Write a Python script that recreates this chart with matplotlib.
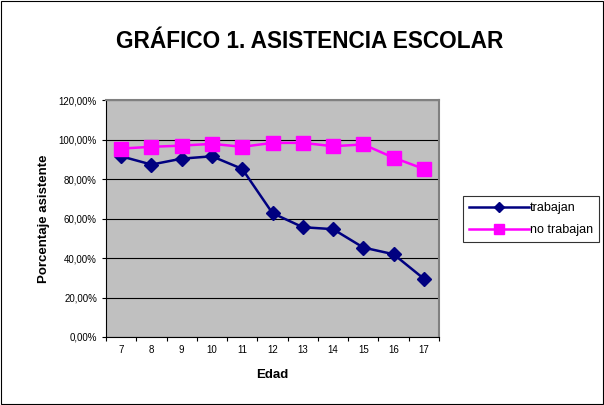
import matplotlib.pyplot as plt
from matplotlib.patches import Rectangle
from matplotlib.ticker import FuncFormatter, MultipleLocator

plt.rcParams['font.family'] = ['Liberation Sans', 'DejaVu Sans']

edades = [7, 8, 9, 10, 11, 12, 13, 14, 15, 16, 17]
trabajan = [91.5, 87.3, 90.3, 91.5, 85.1, 62.7, 55.6, 54.6, 45.3, 41.9, 29.5]
no_trabajan = [95.4, 96.3, 96.9, 97.8, 96.3, 98.3, 98.3, 96.6, 97.5, 90.8, 85.1]


def pct(v, pos):
    return '{:.2f}%'.format(v).replace('.', ',')


def main():
    fig = plt.figure(figsize=(6.04, 4.05), dpi=100)
    fig.patches.append(Rectangle((0.002, 0.002), 0.996, 0.995, transform=fig.transFigure,
                                 fill=False, edgecolor='black', linewidth=0.8))
    ax = fig.add_axes([106 / 604, 1 - 337 / 405, 333 / 604, 237 / 405])
    ax.set_facecolor('#C0C0C0')

    xs = list(range(len(edades)))
    ax.plot(xs, trabajan, color='#000080', marker='D', markersize=7.5, linewidth=1.8,
            label='trabajan', zorder=3)
    ax.plot(xs, no_trabajan, color='#FF00FF', marker='s', markersize=9.5, linewidth=1.8,
            label='no trabajan', zorder=3)

    ax.set_xlim(-0.5, len(edades) - 0.5)
    ax.set_ylim(0, 120)
    ax.yaxis.set_major_locator(MultipleLocator(20))
    ax.yaxis.set_major_formatter(FuncFormatter(pct))
    # ticks between categories, labels centred (Excel style)
    ax.set_xticks([x - 0.5 for x in range(len(edades) + 1)])
    ax.set_xticklabels([])
    ax.set_xticks(xs, minor=True)
    ax.set_xticklabels([str(e) for e in edades], minor=True)
    ax.tick_params(axis='x', which='minor', length=0, labelsize=7, pad=6)
    ax.tick_params(axis='x', which='major', length=3, direction='out')
    ax.tick_params(axis='y', labelsize=7, length=3, direction='out')
    ax.grid(axis='y', color='black', linewidth=0.8)
    ax.set_axisbelow(True)
    for s in ['top', 'right']:
        ax.spines[s].set_color('#808080')
        ax.spines[s].set_linewidth(1.5)
    ax.spines['left'].set_color('black')
    ax.spines['bottom'].set_color('black')

    ax.set_xlabel('Edad', fontsize=9.5, fontweight='bold', labelpad=10)
    ax.set_ylabel('Porcentaje asistente', fontsize=9.5, fontweight='bold', labelpad=6)
    fig.text(0.513, 1 - 42 / 405, 'GRÁFICO 1. ASISTENCIA ESCOLAR', ha='center', va='center',
             fontsize=16.3, fontweight='bold')

    leg = fig.legend(loc='center left', bbox_to_anchor=(463 / 604, 1 - 219 / 405),
                     fontsize=9, frameon=True, fancybox=False, edgecolor='black',
                     handlelength=4.8, handletextpad=0.05, borderpad=0.5, labelspacing=0.8,
                     markerscale=0.7, borderaxespad=0)
    leg.get_frame().set_linewidth(0.8)

    fig.savefig('out.png', dpi=100)


if __name__ == '__main__':
    main()
